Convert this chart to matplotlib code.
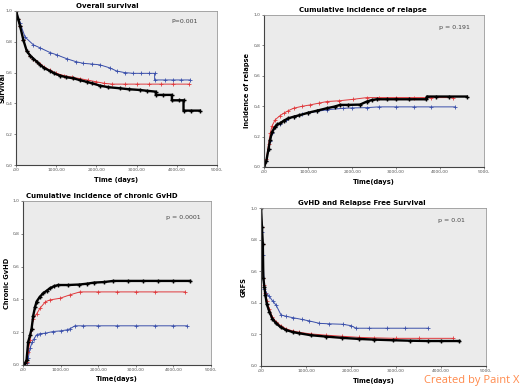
import matplotlib
matplotlib.use('Agg')
import matplotlib.pyplot as plt

# tiempos (dias) y valores
os_azul_t = [0, 100, 224, 430, 600, 846, 1012, 1260, 1500, 1675, 1900, 2090, 2338, 2504, 2700, 2919, 3100, 3300, 3450, 3450, 3700, 3900, 4100, 4330]
os_azul_v = [1.0, 0.92, 0.83, 0.78, 0.76, 0.73, 0.715, 0.69, 0.67, 0.66, 0.655, 0.65, 0.63, 0.61, 0.6, 0.595, 0.595, 0.595, 0.595, 0.552, 0.552, 0.552, 0.552, 0.552]
os_rojo_t = [0, 50, 100, 182, 265, 350, 430, 520, 597, 700, 846, 1000, 1200, 1400, 1600, 1800, 2000, 2200, 2400, 2700, 3000, 3300, 3600, 3900, 4300]
os_rojo_v = [1.0, 0.95, 0.9, 0.81, 0.74, 0.71, 0.69, 0.67, 0.655, 0.635, 0.615, 0.595, 0.58, 0.57, 0.56, 0.55, 0.54, 0.53, 0.525, 0.525, 0.525, 0.525, 0.525, 0.525, 0.525]
os_negro_t = [0, 50, 100, 182, 265, 350, 430, 520, 597, 700, 846, 950, 1095, 1250, 1426, 1600, 1758, 1900, 2090, 2300, 2587, 2800, 3085, 3250, 3480, 3480, 3650, 3880, 3880, 4050, 4170, 4170, 4350, 4577]
os_negro_v = [1.0, 0.95, 0.9, 0.81, 0.74, 0.71, 0.69, 0.67, 0.65, 0.63, 0.61, 0.595, 0.58, 0.57, 0.563, 0.55, 0.54, 0.53, 0.515, 0.505, 0.498, 0.492, 0.487, 0.482, 0.476, 0.455, 0.455, 0.455, 0.42, 0.42, 0.42, 0.353, 0.353, 0.353]

rel_azul_t = [0, 50, 100, 136, 180, 250, 364, 500, 667, 850, 1007, 1200, 1424, 1800, 2000, 2333, 2600, 3000, 3400, 3800, 4340]
rel_azul_v = [0, 0.04, 0.12, 0.17, 0.22, 0.26, 0.285, 0.31, 0.33, 0.345, 0.355, 0.365, 0.376, 0.386, 0.388, 0.39, 0.395, 0.395, 0.395, 0.395, 0.395]
rel_rojo_t = [0, 50, 100, 136, 180, 250, 350, 443, 550, 667, 850, 1045, 1250, 1424, 1700, 2030, 2333, 2600, 3000, 3400, 3800, 4303]
rel_rojo_v = [0, 0.05, 0.15, 0.22, 0.27, 0.31, 0.335, 0.353, 0.37, 0.386, 0.398, 0.408, 0.42, 0.43, 0.435, 0.445, 0.456, 0.456, 0.456, 0.456, 0.456, 0.456]
rel_negro_t = [0, 50, 100, 136, 180, 250, 300, 364, 450, 550, 667, 800, 1007, 1200, 1424, 1600, 1727, 1900, 2180, 2333, 2450, 2560, 2800, 3000, 3300, 3690, 3697, 3900, 4200, 4606]
rel_negro_v = [0, 0.04, 0.12, 0.18, 0.23, 0.265, 0.28, 0.287, 0.305, 0.32, 0.33, 0.34, 0.357, 0.37, 0.386, 0.397, 0.408, 0.408, 0.41, 0.43, 0.44, 0.445, 0.445, 0.445, 0.445, 0.445, 0.463, 0.463, 0.463, 0.463]

gvhd_azul_t = [0, 98, 141, 190, 250, 300, 364, 450, 600, 800, 1000, 1162, 1250, 1383, 1600, 2000, 2500, 3000, 3500, 4000, 4353]
gvhd_azul_v = [0, 0.01, 0.04, 0.10, 0.14, 0.16, 0.183, 0.19, 0.193, 0.203, 0.207, 0.213, 0.22, 0.238, 0.238, 0.238, 0.238, 0.238, 0.238, 0.238, 0.238]
gvhd_rojo_t = [0, 98, 141, 190, 231, 275, 364, 453, 600, 718, 984, 1250, 1515, 2000, 2500, 3000, 3500, 4309]
gvhd_rojo_v = [0, 0.02, 0.08, 0.15, 0.22, 0.28, 0.31, 0.345, 0.385, 0.396, 0.406, 0.427, 0.445, 0.445, 0.445, 0.445, 0.445, 0.445]
gvhd_negro_t = [0, 60, 98, 141, 190, 231, 275, 320, 364, 450, 541, 630, 718, 830, 940, 1200, 1500, 1700, 1900, 2150, 2400, 2800, 3200, 3600, 4000, 4441]
gvhd_negro_v = [0, 0.01, 0.03, 0.14, 0.18, 0.22, 0.30, 0.35, 0.386, 0.415, 0.437, 0.452, 0.467, 0.48, 0.487, 0.487, 0.49, 0.495, 0.502, 0.505, 0.512, 0.512, 0.512, 0.512, 0.512, 0.512]

grfs_azul_t = [0, 20, 40, 74, 120, 185, 260, 333, 444, 550, 703, 900, 1074, 1296, 1500, 1814, 2000, 2110, 2400, 2800, 3200, 3704]
grfs_azul_v = [1.0, 0.85, 0.7, 0.49, 0.46, 0.44, 0.41, 0.386, 0.323, 0.315, 0.306, 0.295, 0.285, 0.27, 0.267, 0.264, 0.255, 0.239, 0.239, 0.239, 0.239, 0.239]
grfs_rojo_t = [0, 20, 40, 51, 75, 96, 130, 185, 250, 333, 440, 555, 700, 851, 1100, 1444, 1800, 2185, 2500, 3000, 3500, 4259]
grfs_rojo_v = [1.0, 0.88, 0.77, 0.56, 0.51, 0.46, 0.41, 0.36, 0.31, 0.28, 0.255, 0.235, 0.222, 0.213, 0.203, 0.195, 0.188, 0.181, 0.178, 0.175, 0.175, 0.175]
grfs_negro_t = [0, 20, 40, 51, 75, 96, 130, 185, 250, 333, 440, 555, 700, 851, 1100, 1444, 1800, 2185, 2500, 2926, 3300, 3700, 4000, 4407]
grfs_negro_v = [1.0, 0.88, 0.77, 0.555, 0.5, 0.45, 0.39, 0.344, 0.3, 0.27, 0.245, 0.228, 0.215, 0.207, 0.195, 0.186, 0.178, 0.171, 0.167, 0.163, 0.16, 0.158, 0.158, 0.158]

paneles = [
    ('Overall survival', 'Survival', 'Time (days)', 'P=0.001',
     [(os_azul_t, os_azul_v), (os_rojo_t, os_rojo_v), (os_negro_t, os_negro_v)]),
    ('Cumulative incidence of relapse', 'Incidence of relapse', 'Time(days)', 'p = 0.191',
     [(rel_azul_t, rel_azul_v), (rel_rojo_t, rel_rojo_v), (rel_negro_t, rel_negro_v)]),
    ('Cumulative incidence of chronic GvHD', 'Chronic GvHD', 'Time(days)', 'p = 0.0001',
     [(gvhd_azul_t, gvhd_azul_v), (gvhd_rojo_t, gvhd_rojo_v), (gvhd_negro_t, gvhd_negro_v)]),
    ('GvHD and Relapse Free Survival', 'GRFS', 'Time(days)', 'p = 0.01',
     [(grfs_azul_t, grfs_azul_v), (grfs_rojo_t, grfs_rojo_v), (grfs_negro_t, grfs_negro_v)]),
]

x_ticks = [0, 1000, 2000, 3000, 4000, 5000]
x_etiquetas = [',00', '1000,00', '2000,00', '3000,00', '4000,00', '5000,']
y_ticks = [0, 0.2, 0.4, 0.6, 0.8, 1.0]
y_etiquetas = ['0,0', '0,2', '0,4', '0,6', '0,8', '1,0']

colores = ['#3a4faa', '#e0393c', '#000000']

# posiciones de los ejes [izq, abajo, ancho, alto]
posiciones = [
    [0.031, 0.578, 0.386, 0.394],
    [0.508, 0.573, 0.423, 0.389],
    [0.044, 0.067, 0.362, 0.419],
    [0.502, 0.064, 0.433, 0.404],
]
titulo_x = [0.453, 0.45, 0.42, 0.449]
p_pos = [(0.84, 0.93), (0.865, 0.92), (0.85, 0.90), (0.845, 0.92)]
ylabel_pad = [0.5, 3, 2, 3]

fig = plt.figure(figsize=(5.2, 3.91), dpi=100)

for i, (titulo, ylab, xlab, ptxt, curvas) in enumerate(paneles):
    ax = fig.add_axes(posiciones[i])
    ax.set_facecolor('#ebebeb')
    for (t, v), c in zip(curvas, colores):
        negro = c == '#000000'
        ax.plot(t, v, color=c, lw=1.7 if negro else 0.7,
                marker='+', ms=3 if negro else 2.5, mew=1.0 if negro else 0.6)
    ax.set_xlim(0, 5000)
    ax.set_ylim(0, 1.0)
    ax.set_xticks(x_ticks)
    ax.set_xticklabels(x_etiquetas)
    ax.set_yticks(y_ticks)
    ax.set_yticklabels(y_etiquetas)
    ax.tick_params(labelsize=3.2, length=1.5, width=0.5, pad=1, colors='#555555')
    for lado in ['left', 'bottom']:
        ax.spines[lado].set_color('#444444')
        ax.spines[lado].set_linewidth(0.8)
    for lado in ['top', 'right']:
        ax.spines[lado].set_color('#999999')
        ax.spines[lado].set_linewidth(0.6)
    ax.text(titulo_x[i], 1.01, titulo, transform=ax.transAxes, ha='center', va='bottom',
            fontsize=5, fontweight='bold')
    ax.set_xlabel(xlab, fontsize=4.8, fontweight='bold', labelpad=3)
    ax.set_ylabel(ylab, fontsize=4.8, fontweight='bold', labelpad=ylabel_pad[i])
    ax.text(p_pos[i][0], p_pos[i][1], ptxt, transform=ax.transAxes, ha='center', va='center',
            fontsize=4.5, color='#444444')

fig.text(0.998, 0.026, 'Created by Paint X', ha='right', va='center', fontsize=8,
         color='#ff8a4c', family='Open Sans')

fig.savefig('out.png', dpi=100)
